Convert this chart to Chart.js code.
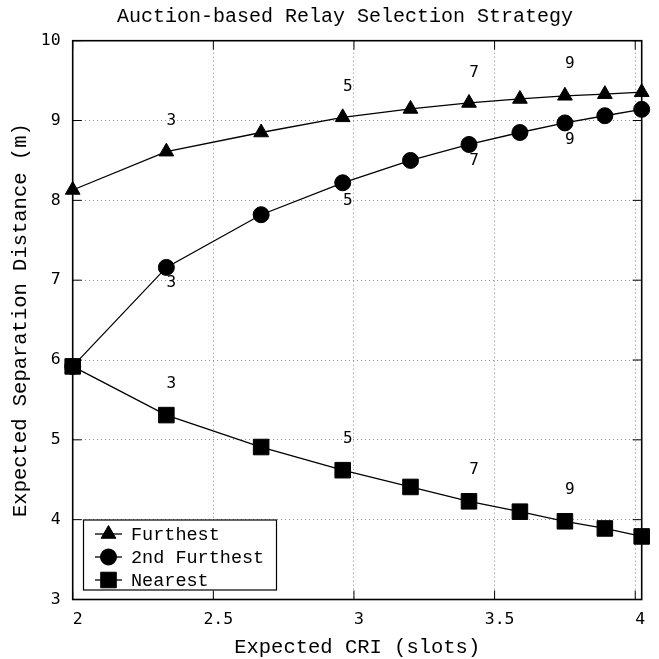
<!DOCTYPE html>
<html><head><meta charset="utf-8">
<script src="https://cdn.jsdelivr.net/npm/chart.js@4.4.1/dist/chart.umd.min.js"></script>
<style>html,body{margin:0;padding:0;background:#fff}#wrap{width:659px;height:659px}</style>
</head><body><div id="wrap"><canvas id="c" width="659" height="659"></canvas></div>
<script>
// ---- data ----
const cri = [2.0, 2.333, 2.670, 2.960, 3.201, 3.409, 3.590, 3.750, 3.892, 4.023];
const furthest = [8.13, 8.61, 8.85, 9.04, 9.145, 9.22, 9.27, 9.31, 9.33, 9.355];
const second = [5.92, 7.16, 7.82, 8.22, 8.50, 8.70, 8.85, 8.97, 9.06, 9.14];
const nearest = [5.92, 5.31, 4.91, 4.62, 4.41, 4.23, 4.10, 3.98, 3.89, 3.79];
const xTicks = [2, 2.5, 3, 3.5, 4];
const yTicks = [3, 4, 5, 6, 7, 8, 9, 10];
const seriesNames = ['Furthest', '2nd Furthest', 'Nearest'];
const chartTitle = 'Auction-based Relay Selection Strategy';
const annotText = ['3', '5', '7', '9'];
const annotIndex = [1, 3, 5, 7];
const furthestAnnotY = [8.99, 9.42, 9.60, 9.71];
const secondAnnotY = [6.97, 7.99, 8.49, 8.76];
const nearestAnnotY = [5.70, 5.01, 4.63, 4.37];

const MONO = "'Liberation Mono', 'Courier New', monospace";
const NUM = "'DejaVu Sans Mono', monospace";
const styles = ['triangle', 'circle', 'rect'];
const radii = [8.5, 8, 11];

function pts(ys) { return ys.map((y, i) => ({x: cri[i], y: y})); }
function ds(label, ys, k) {
  return {
    label: label, data: pts(ys), borderColor: '#000', backgroundColor: '#000',
    borderWidth: 1.3, tension: 0, pointStyle: styles[k], pointRadius: radii[k],
    pointHoverRadius: radii[k], pointBackgroundColor: '#000', pointBorderColor: '#000',
    pointBorderWidth: 1, clip: false
  };
}

function drawMarker(ctx, style, r, x, y) {
  ctx.beginPath();
  if (style === 'triangle') {
    ctx.moveTo(x, y - r);
    ctx.lineTo(x + Math.sin(2 * Math.PI / 3) * r, y + 0.5 * r);
    ctx.lineTo(x - Math.sin(2 * Math.PI / 3) * r, y + 0.5 * r);
    ctx.closePath();
  } else if (style === 'circle') {
    ctx.arc(x, y, r, 0, Math.PI * 2);
  } else {
    const s = Math.SQRT1_2 * r;
    ctx.rect(x - s, y - s, 2 * s, 2 * s);
  }
  ctx.fill();
  ctx.stroke();
}

const decor = {
  id: 'decor',
  beforeDatasetsDraw(chart) {
    const {ctx, chartArea: a, scales: {x, y}} = chart;
    ctx.save();
    ctx.strokeStyle = '#000';
    ctx.lineWidth = 1;
    const tl = 9;
    ctx.beginPath();
    xTicks.forEach(v => {
      const px = x.getPixelForValue(v);
      ctx.moveTo(px, a.bottom); ctx.lineTo(px, a.bottom - tl);
      ctx.moveTo(px, a.top); ctx.lineTo(px, a.top + tl);
    });
    yTicks.forEach(v => {
      const py = y.getPixelForValue(v);
      ctx.moveTo(a.left, py); ctx.lineTo(a.left + tl, py);
      ctx.moveTo(a.right, py); ctx.lineTo(a.right - tl, py);
    });
    ctx.stroke();
    ctx.lineWidth = 1.6;
    ctx.strokeRect(a.left, a.top, a.right - a.left, a.bottom - a.top);
    ctx.restore();
  },
  afterDatasetsDraw(chart) {
    const {ctx, scales: {x, y}} = chart;
    ctx.save();
    ctx.fillStyle = '#000';
    ctx.font = "16px " + NUM;
    ctx.textAlign = 'center';
    ctx.textBaseline = 'middle';
    [furthestAnnotY, secondAnnotY, nearestAnnotY].forEach(arr => {
      arr.forEach((v, j) => {
        ctx.fillText(annotText[j], x.getPixelForValue(cri[annotIndex[j]]) + 5, y.getPixelForValue(v));
      });
    });
    ctx.restore();
  },
  afterDraw(chart) {
    const {ctx} = chart;
    ctx.save();
    // title
    ctx.fillStyle = '#000';
    ctx.font = "20px " + MONO;
    ctx.textAlign = 'center';
    ctx.textBaseline = 'alphabetic';
    ctx.fillText(chartTitle, 345, 21.5);
    // legend
    const bx = 83.5, by = 520, bw = 193, bh = 70;
    ctx.fillStyle = '#fff';
    ctx.fillRect(bx, by, bw, bh);
    ctx.strokeStyle = '#000';
    ctx.lineWidth = 1.2;
    ctx.strokeRect(bx, by, bw, bh);
    const rows = [534, 557, 580];
    ctx.font = "18.5px " + MONO;
    ctx.textBaseline = 'middle';
    ctx.textAlign = 'left';
    seriesNames.forEach((name, k) => {
      const yy = rows[k];
      ctx.strokeStyle = '#000';
      ctx.lineWidth = 1.3;
      ctx.beginPath(); ctx.moveTo(95, yy); ctx.lineTo(122, yy); ctx.stroke();
      ctx.fillStyle = '#000';
      ctx.lineWidth = 1;
      drawMarker(ctx, styles[k], radii[k], 108.5, yy);
      ctx.fillText(name, 131, yy + 1);
    });
    ctx.restore();
  }
};

new Chart(document.getElementById('c'), {
  type: 'line',
  data: {
    datasets: [ds(seriesNames[0], furthest, 0), ds(seriesNames[1], second, 1), ds(seriesNames[2], nearest, 2)]
  },
  options: {
    responsive: false, animation: false, devicePixelRatio: 1,
    layout: {padding: {left: 0, right: 17.3, top: 40.7, bottom: 0}},
    plugins: {
      legend: {display: false},
      tooltip: {enabled: false},
      title: {display: false}
    },
    scales: {
      x: {
        type: 'linear', min: 2, max: 4.023,
        afterBuildTicks: s => { s.ticks = xTicks.map(v => ({value: v})); },
        afterFit: s => { s.height = 59.5; },
        ticks: {color: '#000', font: {family: NUM, size: 16.5}, padding: 10.5, labelOffset: 5,
                maxRotation: 0, autoSkip: false, callback: v => String(v)},
        grid: {color: '#8a8a8a', lineWidth: 1, drawTicks: false},
        border: {display: false, dash: [1, 3]},
        title: {display: true, text: 'Expected CRI (slots)', color: '#000',
                font: {family: MONO, size: 20.5, lineHeight: 1}, padding: {top: 0, bottom: 1}}
      },
      y: {
        type: 'linear', min: 3, max: 10,
        afterBuildTicks: s => { s.ticks = yTicks.map(v => ({value: v})); },
        afterFit: s => { s.width = 72.7; },
        ticks: {color: '#000', font: {family: NUM, size: 16.5}, padding: 12, callback: v => String(v)},
        grid: {color: '#8a8a8a', lineWidth: 1, drawTicks: false},
        border: {display: false, dash: [1, 3]},
        title: {display: true, text: 'Expected Separation Distance (m)', color: '#000',
                font: {family: MONO, size: 20.5, lineHeight: 1}, padding: {top: 10, bottom: 0}}
      }
    }
  },
  plugins: [decor]
});
</script>
</body></html>
